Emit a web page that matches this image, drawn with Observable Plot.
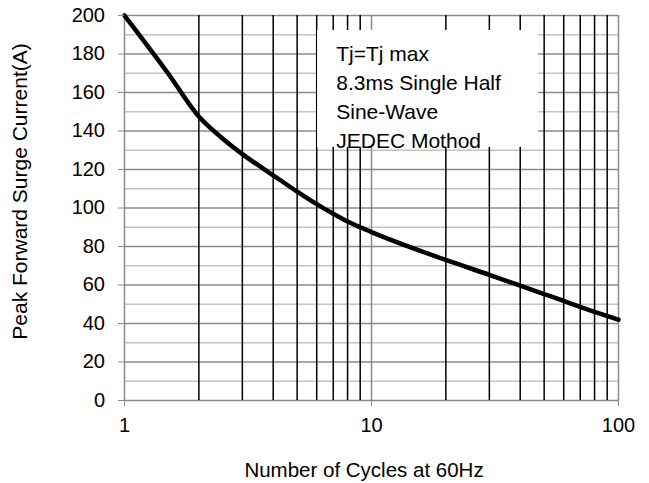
<!DOCTYPE html>
<html>
<head>
<meta charset="utf-8">
<script src="https://cdn.jsdelivr.net/npm/d3@7"></script>
<script src="https://cdn.jsdelivr.net/npm/@observablehq/plot@0.6"></script>
<style>
  html, body { margin: 0; padding: 0; background: white; }
</style>
</head>
<body>
<div id="chart"></div>
<script>
const cycles  = [1, 1.5, 2, 2.5, 3, 4, 5, 6, 7, 8, 9, 10, 20, 30, 40, 50, 60, 80, 100];
const current = [200, 170, 147.5, 136, 128, 117, 108.5, 102, 97, 93, 90, 87.5, 73, 65.3, 59.7, 55.3, 51.7, 46.1, 42];

const xTickLabels = [1, 10, 100];
const xMinorGrid = [2, 3, 4, 5, 6, 7, 8, 9, 20, 30, 40, 50, 60, 70, 80, 90];
const yTicks = [0, 20, 40, 60, 80, 100, 120, 140, 160, 180, 200];
const yMinorGrid = [10, 30, 50, 70, 90, 110, 130, 150, 170, 190];

const legendLines = ["Tj=Tj max", "8.3ms Single Half", "Sine-Wave", "JEDEC Mothod"];
const xTitle = "Number of Cycles at 60Hz";
const yTitle = "Peak Forward Surge Current(A)";

const data = cycles.map((c, i) => ({cycles: c, current: current[i]}));

const chart = Plot.plot({
  width: 649,
  height: 483,
  marginLeft: 124,
  marginRight: 31,
  marginTop: 15,
  marginBottom: 83,
  x: {type: "log", domain: [1, 100]},
  y: {domain: [0, 200]},
  style: {fontFamily: "'Liberation Sans', Arial, sans-serif", fontSize: "20px", background: "white", color: "black"},
  marks: [
    Plot.ruleY(yMinorGrid, {stroke: "#c4c4c4", strokeWidth: 1.5}),
    Plot.ruleY(yTicks, {stroke: "#8a8a8a", strokeWidth: 1.5}),
    Plot.ruleX(xMinorGrid, {stroke: "black", strokeWidth: 1.5}),
    Plot.ruleX(xTickLabels, {stroke: "#8a8a8a", strokeWidth: 1.5}),
    Plot.rect([0], {x1: 6.05, x2: 47.4, y1: 131.5, y2: 192.2, fill: "white"}),
    Plot.text([legendLines.join("\n")], {x: 7.2, y: 158.5, textAnchor: "start", lineAnchor: "middle", lineHeight: 1.37, fontSize: 21, fill: "black"}),
    Plot.line(data, {x: "cycles", y: "current", stroke: "black", strokeWidth: 4.5, curve: "monotone-x"}),
    Plot.axisY({ticks: yTicks, tickSize: 6, tickPadding: 13.5, label: null, stroke: "#8a8a8a", fill: "black", fontSize: 20}),
    Plot.axisX({ticks: xTickLabels, tickSize: 6, tickPadding: 11.5, label: null, tickFormat: d3.format("d"), stroke: "#8a8a8a", fill: "black", fontSize: 20}),
    Plot.text([yTitle], {frameAnchor: "left", rotate: -90, textAnchor: "middle", dx: -104, dy: -16.5, fontSize: 21, fill: "black", lineAnchor: "middle"}),
    Plot.text([xTitle], {frameAnchor: "bottom", textAnchor: "middle", dy: 70, dx: -7.5, fontSize: 20.5, fill: "black", lineAnchor: "middle"})
  ]
});
document.getElementById("chart").appendChild(chart);
</script>
</body>
</html>
